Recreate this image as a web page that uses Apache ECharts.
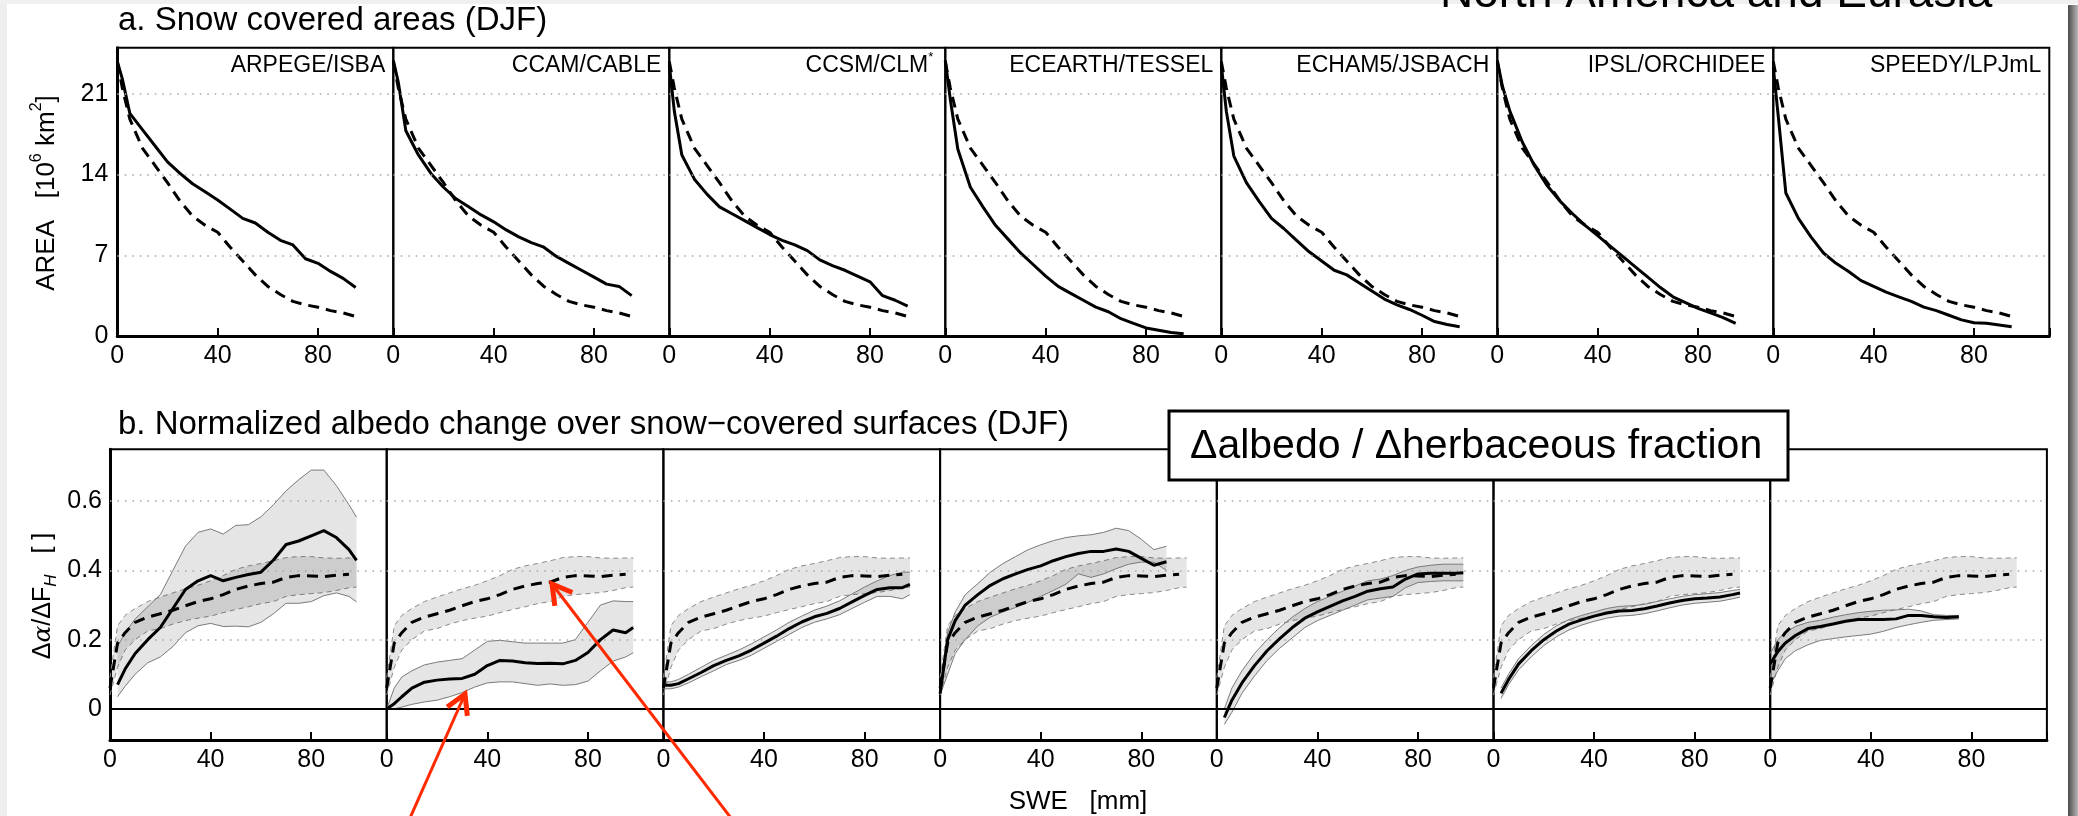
<!DOCTYPE html>
<html><head><meta charset="utf-8">
<script src="https://cdn.jsdelivr.net/npm/echarts@6/dist/echarts.min.js"></script>
<style>html,body{margin:0;padding:0;background:#fff}#c{width:2078px;height:816px}</style>
</head><body><div id="c"></div>
<script>
// ---------------- DATA ----------------
const models = ['ARPEGE/ISBA','CCAM/CABLE','CCSM/CLM','ECEARTH/TESSEL','ECHAM5/JSBACH','IPSL/ORCHIDEE','SPEEDY/LPJmL'];
const xTicks = [0, 40, 80];
const areaTicks = [0, 7, 14, 21];
const albTicks = [0, 0.2, 0.4, 0.6];

// a. Snow covered areas [10^6 km^2] vs SWE [mm]
const sweA = [0,2,5,10,15,20,25,30,35,40,45,50,55,60,65,70,75,80,85,90,95];
const areaRef     = [23.8,21.5,18.8,16.3,14.8,13.3,11.7,10.4,9.6,9.0,7.7,6.5,5.3,4.3,3.6,3.0,2.7,2.5,2.2,2.0,1.7];
const areaARPEGE  = [23.8,22.3,19.3,17.9,16.5,15.1,14.1,13.2,12.5,11.8,11.0,10.2,9.8,9.0,8.3,7.9,6.7,6.3,5.6,5.0,4.2];
const areaCCAM    = [23.9,22.0,17.8,15.7,14.1,12.9,11.9,11.2,10.5,9.9,9.2,8.6,8.1,7.7,6.9,6.3,5.7,5.1,4.5,4.3,3.5];
const areaCCSM    = [23.5,19.5,15.7,13.6,12.3,11.2,10.6,10.0,9.4,8.8,8.3,7.9,7.4,6.6,6.1,5.7,5.2,4.7,3.5,3.1,2.6];
const areaECEARTH = [23.9,20.5,16.2,12.9,11.2,9.6,8.4,7.2,6.2,5.2,4.3,3.7,3.1,2.5,2.1,1.5,1.1,0.7,0.5,0.3,0.2];
const areaECHAM5  = [23.5,19.5,15.6,13.3,11.7,10.2,9.3,8.3,7.3,6.5,5.7,5.3,4.6,3.9,3.2,2.7,2.3,1.8,1.25,1.0,0.8];
const areaIPSL    = [23.9,21.7,19.5,16.8,14.7,13.0,11.7,10.6,9.6,8.7,7.8,6.9,6.0,5.1,4.2,3.4,2.9,2.4,2.0,1.6,1.1];
const areaSPEEDY  = [23.3,19.0,12.4,10.2,8.6,7.2,6.3,5.6,4.8,4.3,3.8,3.4,3.0,2.5,2.2,1.8,1.4,1.15,1.1,0.95,0.8];

// b. Normalized albedo change vs SWE [mm]
const sweB = [0,3,6,10,15,20,25,30,35,40,45,50,55,60,65,70,75,80,85,90,95,98];
const albRef   = [0.06,0.19,0.22,0.25,0.265,0.275,0.285,0.298,0.31,0.318,0.33,0.345,0.355,0.362,0.366,0.38,0.385,0.384,0.382,0.386,0.389,null];
const albRefHi = [0.09,0.24,0.27,0.29,0.31,0.323,0.335,0.347,0.357,0.37,0.385,0.403,0.413,0.42,0.428,0.437,0.44,0.44,0.436,0.435,0.436,0.436];
const albRefLo = [0.04,0.12,0.17,0.2,0.225,0.232,0.245,0.255,0.262,0.268,0.278,0.287,0.295,0.304,0.31,0.325,0.33,0.333,0.336,0.342,0.35,0.352];

const albARPEGE   = [null,0.07,0.115,0.16,0.2,0.235,0.29,0.345,0.37,0.385,0.37,0.38,0.388,0.395,0.43,0.475,0.485,0.5,0.515,0.495,0.46,0.429];
const albARPEGEHi = [null,0.18,0.22,0.26,0.295,0.33,0.4,0.47,0.51,0.52,0.505,0.53,0.532,0.555,0.59,0.63,0.662,0.69,0.69,0.645,0.59,0.554];
const albARPEGELo = [null,0.035,0.065,0.1,0.133,0.15,0.18,0.22,0.24,0.247,0.238,0.239,0.237,0.25,0.275,0.305,0.305,0.31,0.327,0.335,0.325,0.309];

const albCCAM   = [0.0,0.015,0.035,0.06,0.077,0.083,0.086,0.088,0.1,0.125,0.14,0.138,0.133,0.131,0.132,0.13,0.14,0.163,0.2,0.228,0.22,0.235];
const albCCAMHi = [0.0,0.06,0.092,0.11,0.127,0.135,0.14,0.145,0.17,0.195,0.198,0.194,0.19,0.19,0.19,0.19,0.2,0.25,0.3,0.312,0.31,0.31];
const albCCAMLo = [0.0,0.0,0.005,0.013,0.02,0.025,0.035,0.047,0.063,0.075,0.078,0.078,0.073,0.068,0.072,0.068,0.07,0.08,0.11,0.138,0.15,0.162];

const albCCSM   = [0.068,0.068,0.073,0.087,0.105,0.125,0.14,0.153,0.17,0.19,0.21,0.232,0.251,0.266,0.276,0.29,0.309,0.328,0.345,0.35,0.35,0.36];
const albCCSMHi = [0.078,0.078,0.085,0.1,0.12,0.14,0.155,0.17,0.188,0.208,0.228,0.25,0.268,0.285,0.297,0.312,0.332,0.352,0.37,0.385,0.395,0.395];
const albCCSMLo = [0.058,0.058,0.063,0.075,0.093,0.11,0.128,0.14,0.155,0.175,0.195,0.215,0.235,0.25,0.26,0.272,0.29,0.308,0.325,0.325,0.318,0.33];

const albECEARTH   = [0.044,0.2,0.255,0.3,0.33,0.357,0.376,0.39,0.403,0.413,0.428,0.44,0.449,0.455,0.455,0.462,0.455,0.435,0.415,0.425,null,null];
const albECEARTHHi = [0.06,0.22,0.28,0.33,0.362,0.395,0.42,0.44,0.46,0.474,0.486,0.495,0.5,0.503,0.51,0.522,0.515,0.49,0.46,0.47,null,null];
const albECEARTHLo = [0.04,0.1,0.16,0.2,0.24,0.265,0.28,0.293,0.308,0.325,0.342,0.36,0.39,0.38,0.39,0.405,0.418,0.424,0.424,0.4,null,null];

const albECHAM5   = [null,-0.025,0.025,0.075,0.125,0.168,0.203,0.235,0.262,0.28,0.296,0.312,0.325,0.34,0.347,0.352,0.375,0.39,0.392,0.392,0.392,0.393];
const albECHAM5Hi = [null,0.0,0.06,0.11,0.16,0.2,0.235,0.265,0.29,0.31,0.325,0.34,0.355,0.37,0.375,0.385,0.4,0.41,0.415,0.418,0.418,0.418];
const albECHAM5Lo = [null,-0.045,-0.01,0.045,0.095,0.14,0.175,0.205,0.235,0.255,0.27,0.285,0.3,0.315,0.32,0.325,0.35,0.365,0.368,0.37,0.37,0.37];

const albIPSL   = [null,0.045,0.085,0.13,0.168,0.2,0.225,0.245,0.257,0.268,0.277,0.283,0.284,0.289,0.297,0.306,0.313,0.318,0.32,0.323,0.33,0.335];
const albIPSLHi = [null,0.06,0.1,0.145,0.183,0.215,0.24,0.258,0.27,0.28,0.29,0.296,0.298,0.302,0.31,0.318,0.325,0.33,0.333,0.336,0.342,0.345];
const albIPSLLo = [null,0.03,0.07,0.113,0.15,0.183,0.208,0.228,0.242,0.253,0.262,0.268,0.27,0.275,0.283,0.292,0.3,0.305,0.308,0.311,0.318,0.323];

const albSPEEDY   = [0.13,0.165,0.19,0.212,0.232,0.238,0.245,0.253,0.258,0.258,0.258,0.26,0.27,0.27,0.266,0.264,0.266,null,null,null,null,null];
const albSPEEDYHi = [0.16,0.2,0.22,0.238,0.25,0.256,0.265,0.272,0.278,0.282,0.285,0.286,0.288,0.283,0.272,0.27,0.27,null,null,null,null,null];
const albSPEEDYLo = [0.07,0.11,0.145,0.168,0.185,0.198,0.203,0.208,0.212,0.216,0.224,0.235,0.243,0.25,0.256,0.258,0.26,null,null,null,null,null];

// ---------------- BUILD ----------------
const areaModels = [areaARPEGE, areaCCAM, areaCCSM, areaECEARTH, areaECHAM5, areaIPSL, areaSPEEDY];
const albModels   = [albARPEGE, albCCAM, albCCSM, albECEARTH, albECHAM5, albIPSL, albSPEEDY];
const albModelsHi = [albARPEGEHi, albCCAMHi, albCCSMHi, albECEARTHHi, albECHAM5Hi, albIPSLHi, albSPEEDYHi];
const albModelsLo = [albARPEGELo, albCCAMLo, albCCSMLo, albECEARTHLo, albECHAM5Lo, albIPSLLo, albSPEEDYLo];

const FONT = "'Liberation Sans', Arial, Helvetica, sans-serif";
const PA = {left:117.3, top:47.7, w:276, h:288.3};
const PB = {left:110, top:449.3, w:276.7, h:290.7};
const GRIDLINE = {color:'#a6a6a6', width:1.5, type:[1.5,6]};

const grids = [], xAxes = [], yAxes = [], series = [];
const pairs = (xs, ys) => xs.map((x,i) => [x, ys[i] == null ? null : ys[i]]);

function xAxisFor(gi){
  return {gridIndex:gi, type:'value', min:0, max:110, interval:40,
    axisLine:{show:true, onZero:false, lineStyle:{color:'#000', width:3}},
    axisTick:{show:true, inside:true, length:8, lineStyle:{color:'#000', width:2}},
    axisLabel:{show:true, margin:8, fontSize:25, color:'#000', fontFamily:FONT,
      formatter: v => xTicks.includes(v) ? String(v) : ''},
    splitLine:{show:false}};
}

// band drawn by a custom series: polygon between lo and hi, mapped with api.coord
function bandSeries(gi, xs, lo, hi, edgeType, edgeColor, markLine){
  const data = xs.map((x,i) => [x, lo[i], hi[i]]).filter(d => d[1] != null && d[2] != null);
  return {type:'custom', xAxisIndex:gi, yAxisIndex:gi, z:2, silent:true, data,
    encode:{x:0, y:[1,2]},
    markLine,
    renderItem: (params, api) => {
      if (params.dataIndex !== 0) return null;
      const up = data.map(d => api.coord([d[0], d[2]]));
      const dn = data.map(d => api.coord([d[0], d[1]]));
      const poly = up.concat(dn.slice().reverse());
      const edge = {stroke:edgeColor, lineWidth:1, fill:null, lineDash: edgeType === 'dashed' ? [5,4] : null};
      return {type:'group', children:[
        {type:'polygon', shape:{points:poly}, style:{fill:'rgba(0,0,0,0.1)', stroke:null}},
        {type:'polyline', shape:{points:up}, style:edge},
        {type:'polyline', shape:{points:dn}, style:edge}
      ]};
    }};
}

for (let k=0;k<7;k++){
  grids.push({left:PA.left+PA.w*k, top:PA.top, width:PA.w, height:PA.h, show:true, borderColor:'#000', borderWidth:2, backgroundColor:'rgba(0,0,0,0)'});
  xAxes.push(xAxisFor(k));
  yAxes.push({gridIndex:k, type:'value', min:0, max:25, interval:7,
    axisLine:{show:k===0, onZero:false, lineStyle:{color:'#000', width:3}},
    axisTick:{show:false},
    axisLabel:{show:k===0, margin:9, fontSize:25, color:'#000', fontFamily:FONT,
      formatter: v => areaTicks.includes(v) ? String(v) : ''},
    splitLine:{show:false}});
  series.push({type:'line', xAxisIndex:k, yAxisIndex:k, data:pairs(sweA, areaRef), symbol:'none', z:3,
    lineStyle:{color:'#000', width:3, type:[11,7]},
    markLine:{silent:true, symbol:['none','none'], label:{show:false}, animation:false, lineStyle:GRIDLINE,
      data:[{yAxis:areaTicks[1]},{yAxis:areaTicks[2]},{yAxis:areaTicks[3]}]}});
  series.push({type:'line', xAxisIndex:k, yAxisIndex:k, data:pairs(sweA, areaModels[k]), symbol:'none', z:4,
    lineStyle:{color:'#000', width:3}});
}

for (let k=0;k<7;k++){
  const gi = 7+k;
  grids.push({left:PB.left+PB.w*k, top:PB.top, width:PB.w, height:PB.h, show:true, borderColor:'#000', borderWidth:2, backgroundColor:'rgba(0,0,0,0)'});
  xAxes.push(xAxisFor(gi));
  yAxes.push({gridIndex:gi, type:'value', min:-0.09, max:0.75, interval:0.01,
    axisLine:{show:k===0, onZero:false, lineStyle:{color:'#000', width:3}},
    axisTick:{show:false},
    axisLabel:{show:k===0, margin:8, fontSize:25, color:'#000', fontFamily:FONT,
      formatter: v => { const t = albTicks.find(t => Math.abs(t - v) < 1e-6); return t === undefined ? '' : String(t); }},
    splitLine:{show:false}});
  const gridLines = {silent:true, symbol:['none','none'], label:{show:false}, animation:false, lineStyle:GRIDLINE,
      data:[{yAxis:albTicks[1]},{yAxis:albTicks[2]},{yAxis:albTicks[3]}]};
  series.push(bandSeries(gi, sweB, albRefLo, albRefHi, 'dashed', '#8a8a8a', gridLines));
  series.push(bandSeries(gi, sweB, albModelsLo[k], albModelsHi[k], 'solid', '#7a7a7a'));
  series.push({type:'line', xAxisIndex:gi, yAxisIndex:gi, symbol:'none', z:4, data:pairs(sweB, albRef),
    lineStyle:{color:'#000', width:3, type:[11,7]},
    markLine:{silent:true, symbol:['none','none'], label:{show:false}, animation:false,
      lineStyle:{color:'#000', width:2, type:'solid'}, data:[{yAxis:albTicks[0]}]}});
  series.push({type:'line', xAxisIndex:gi, yAxisIndex:gi, symbol:'none', z:5, data:pairs(sweB, albModels[k]),
    lineStyle:{color:'#000', width:3}});
}

// ---------------- ANNOTATIONS ----------------
const graphic = [];
graphic.push({type:'rect', z:-10, silent:true, shape:{x:0,y:0,width:7,height:816}, style:{fill:'#eeeeee'}});
graphic.push({type:'rect', z:-10, silent:true, shape:{x:0,y:0,width:2078,height:4}, style:{fill:'#f0f0f0'}});
graphic.push({type:'rect', z:50, silent:true, shape:{x:2068,y:5,width:10,height:811},
  style:{fill:new echarts.graphic.LinearGradient(0,0,1,0,[{offset:0,color:'#4a4a4a'},{offset:1,color:'#b8b8b8'}])}});

const txt = (x,y,text,size,align,extra) => Object.assign({type:'text', x, y, z:60, silent:true,
  style:Object.assign({text, fontSize:size, fontFamily:FONT, fill:'#000', align, verticalAlign:'middle'}, extra||{})});

graphic.push(txt(118, 21, 'a. Snow covered areas (DJF)', 33, 'left'));
graphic.push(txt(118, 425, 'b. Normalized albedo change over snow\u2212covered surfaces (DJF)', 33, 'left'));
graphic.push(txt(1440, -6, 'North America and Eurasia', 46, 'left'));

models.forEach((m,k) => {
  const right = PA.left + PA.w*(k+1) - 8;
  if (m === 'CCSM/CLM') {
    graphic.push(txt(right - 4, 66, '{n|' + m + '}{s|*}', 23, 'right', {
      rich:{n:{fontSize:23, fontFamily:FONT, lineHeight:30, verticalAlign:'middle'},
            s:{fontSize:13, fontFamily:FONT, lineHeight:30, verticalAlign:'top'}}}));
  } else {
    graphic.push(txt(right, 66, m, 23, 'right'));
  }
});

// axis names
graphic.push(Object.assign(txt(47, 193, '{n|AREA   [10}{s|6}{n| km}{s|2}{n|]}', 26, 'center', {
  rich:{n:{fontSize:26, fontFamily:FONT, lineHeight:36, verticalAlign:'middle'},
        s:{fontSize:16, fontFamily:FONT, lineHeight:36, verticalAlign:'top'}}}), {rotation:Math.PI/2}));
graphic.push(Object.assign(txt(43, 596, '{n|\u0394}{a|\u03b1}{n|/\u0394F}{h|H}{n|   [ ]}', 25, 'center', {
  rich:{n:{fontSize:25, fontFamily:FONT, lineHeight:34, verticalAlign:'middle'},
        a:{fontSize:25, fontFamily:"'DejaVu Serif', serif", fontStyle:'italic', lineHeight:34, verticalAlign:'middle'},
        h:{fontSize:17, fontFamily:FONT, fontStyle:'italic', lineHeight:34, verticalAlign:'bottom'}}}), {rotation:Math.PI/2}));
graphic.push(txt(1078, 802, 'SWE   [mm]', 26, 'center'));

// label box
graphic.push({type:'rect', z:100, silent:true, shape:{x:1169,y:411,width:619,height:69}, style:{fill:'#fff', stroke:'#000', lineWidth:3}});
graphic.push(Object.assign(txt(1190, 447, '\u0394albedo / \u0394herbaceous fraction', 41, 'left'), {z:101}));

// red arrows
function arrow(bx, by, tx, ty){
  const dx = bx - tx, dy = by - ty, L = Math.hypot(dx, dy), ux = dx/L, uy = dy/L, len = 22, c = Math.cos(Math.PI/6), s = Math.sin(Math.PI/6);
  const p1 = [tx + len*(ux*c - uy*s), ty + len*(ux*s + uy*c)];
  const p2 = [tx + len*(ux*c + uy*s), ty + len*(-ux*s + uy*c)];
  graphic.push({type:'line', z:110, silent:true, shape:{x1:bx,y1:by,x2:tx,y2:ty}, style:{stroke:'#ff2a00', lineWidth:3}});
  graphic.push({type:'polyline', z:110, silent:true, shape:{points:[p1,[tx,ty],p2]}, style:{stroke:'#ff2a00', lineWidth:5, lineJoin:'miter', fill:null}});
}
arrow(410, 818, 465, 694);
arrow(731, 818, 552, 584);

const chart = echarts.init(document.getElementById('c'), null, {renderer:'canvas'});
chart.setOption({animation:false, backgroundColor:'#ffffff', grid:grids, xAxis:xAxes, yAxis:yAxes, series, graphic});
</script></body></html>
